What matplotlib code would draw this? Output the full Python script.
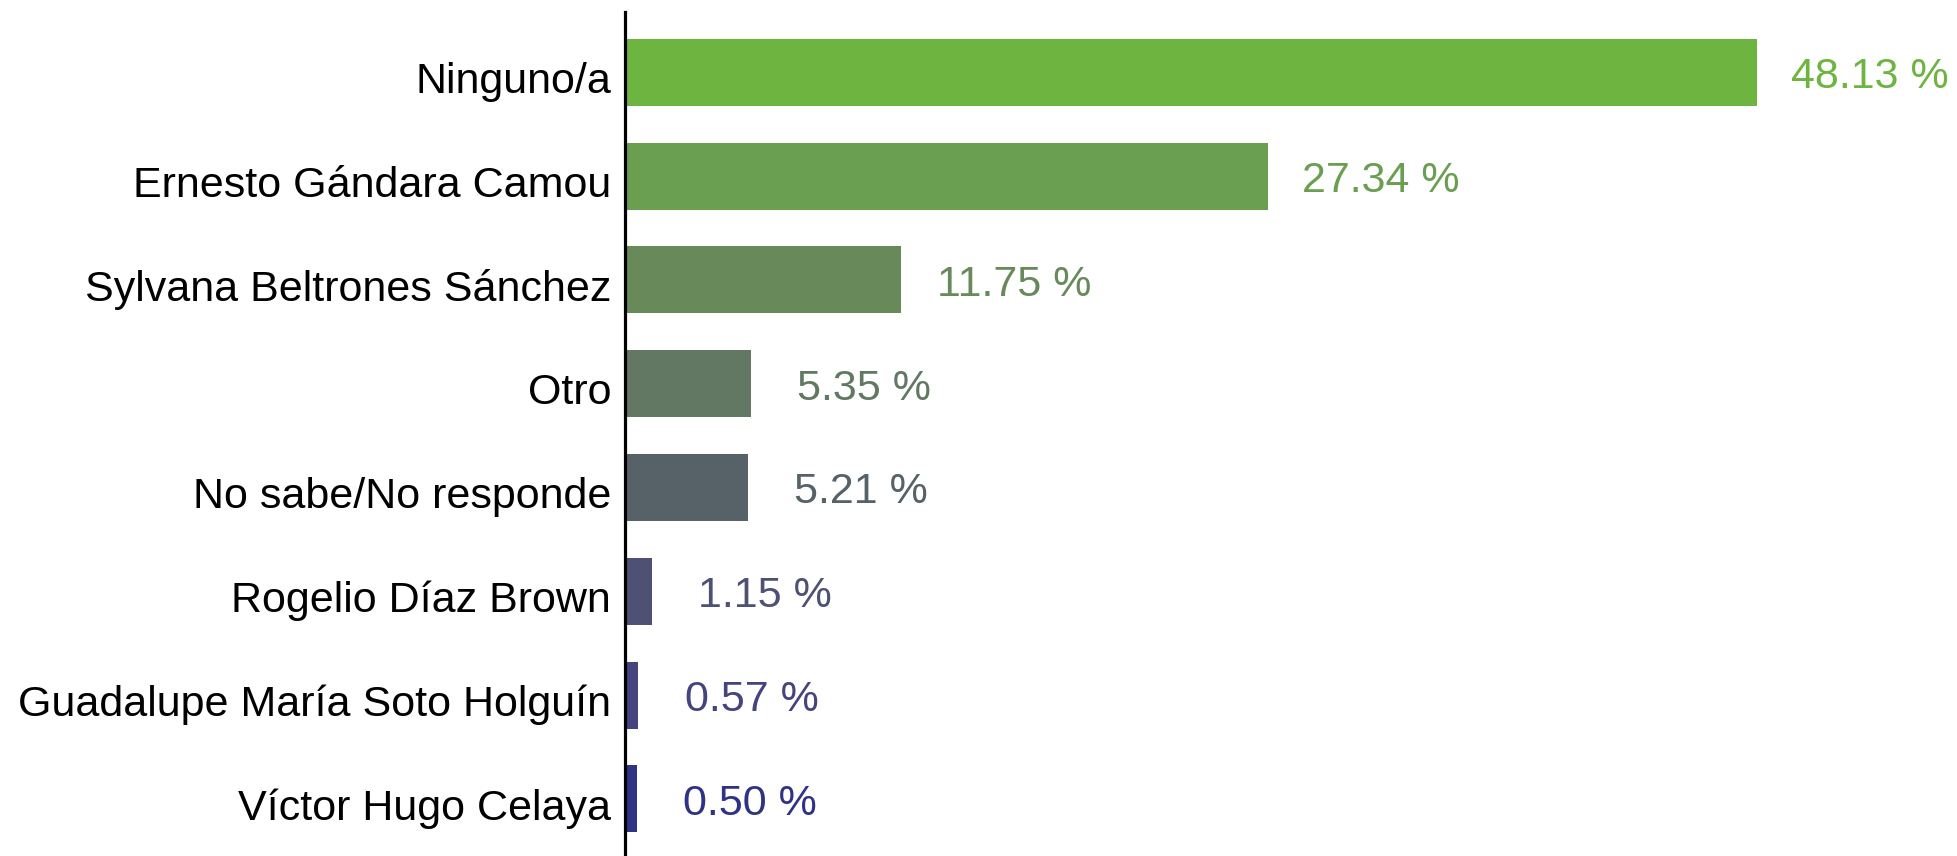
import matplotlib
matplotlib.use("Agg")
import matplotlib.pyplot as plt
from matplotlib.transforms import ScaledTranslation

categories = ["Ninguno/a", "Ernesto Gándara Camou", "Sylvana Beltrones Sánchez", "Otro",
              "No sabe/No responde", "Rogelio Díaz Brown", "Guadalupe María Soto Holguín",
              "Víctor Hugo Celaya"]
values = [48.13, 27.34, 11.75, 5.35, 5.21, 1.15, 0.57, 0.50]
colors = ["#6eb441", "#6a9e50", "#688a5a", "#627862", "#566168", "#4e5074", "#45447f", "#2f3285"]

plt.rcParams['font.family'] = ['Liberation Sans', 'DejaVu Sans']

fig = plt.figure(figsize=(19.57, 8.56), dpi=100)
ax = fig.add_axes([625 / 1957, 0, 1 - 625 / 1957, (856 - 12) / 856])

y = list(range(len(categories)))
ax.barh(y, values, height=0.645, color=colors)
ax.set_ylim(len(categories) - 1 + 0.55, -0.58)
ax.set_xlim(0, (1957 - 625) / 23.52)
ax.set_yticks(y)
ax.set_yticklabels(categories, fontsize=31, color="black")
ax.tick_params(axis='y', length=0, pad=10)
shift = ScaledTranslation(0, -5 / 100, fig.dpi_scale_trans)
for lbl in ax.get_yticklabels():
    lbl.set_transform(lbl.get_transform() + shift)
ax.set_xticks([])
for s in ["top", "right", "bottom"]:
    ax.spines[s].set_visible(False)
ax.spines["left"].set_linewidth(2.3)
ax.spines["left"].set_color("black")

for yi, v, c in zip(y, values, colors):
    ax.annotate(f"{v:.2f} %", xy=(v, yi), xytext=(113, -5), textcoords="offset pixels",
                ha="center", va="center", fontsize=31, color=c)

fig.savefig("out.png", dpi=100)
